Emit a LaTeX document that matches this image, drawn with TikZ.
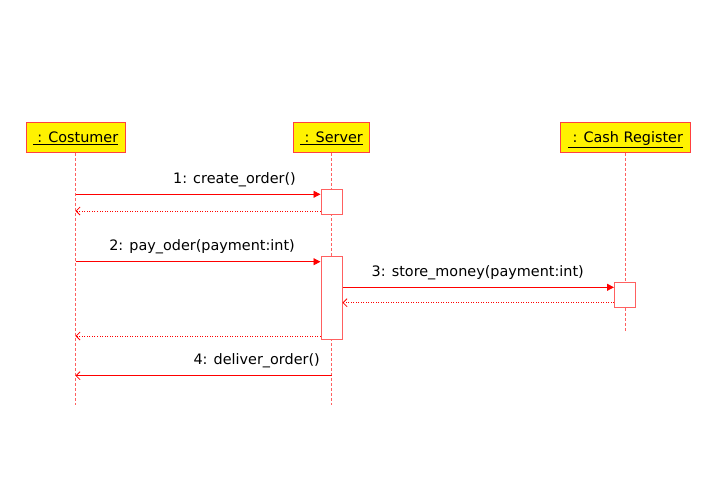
\documentclass[tikz,border=0pt]{standalone}
\usepackage{fontspec}
\setmainfont{DejaVu Sans}
\usetikzlibrary{arrows.meta}
\definecolor{lred}{HTML}{FF6060}
\definecolor{objborder}{HTML}{FF4040}
\newcommand\myul[1]{\vtop{\hbox{#1}\kern1.6pt\hrule height 1.2pt}}
\begin{document}
\begin{tikzpicture}[x=1pt,y=-1pt,
 obj/.style={draw=objborder, fill=yellow, line width=1pt, minimum height=30pt, inner sep=0pt, text height=11pt, text depth=1pt, font=\fontsize{14.4}{16}\selectfont},
 life/.style={draw=lred, dash pattern=on 3pt off 2pt, line width=1pt},
 act/.style={draw=lred, fill=white, line width=1pt, minimum width=21pt, inner sep=0pt},
 msg/.style={draw=red, line width=0.8pt, -{Triangle[length=7pt,width=7pt]}},
 ret/.style={draw=red, line width=0.8pt, dash pattern=on 1pt off 1.5pt, -{Straight Barb[length=4pt,width=8pt]}},
 rsolid/.style={draw=red, line width=0.8pt, -{Straight Barb[length=4pt,width=8pt]}},
 lbl/.style={font=\fontsize{14.4}{16}\selectfont, anchor=base east, inner sep=0pt}]
\useasboundingbox (0,0) rectangle (705,501);
% objects
\node[obj, minimum width=99pt] (cost) at (75.5,137.3) {\myul{\ : Costumer}};
\node[obj, minimum width=76pt] (serv) at (331.5,137.3) {\myul{\ : Server}};
\node[obj, minimum width=130pt] (cash) at (625.5,137.3) {\myul{\ : Cash Register}};
% lifeline ends
\coordinate (costEnd) at (75.5,405);
\coordinate (servEnd) at (331.5,405);
\coordinate (cashEnd) at (625.5,331);
\draw[life] (cost.south) -- (costEnd);
\draw[life] (serv.south) -- (servEnd);
\draw[life] (cash.south) -- (cashEnd);
% activations
\node[act, minimum height=25pt] (act1) at (331.5,201.8) {};
\node[act, minimum height=83pt] (act2) at (331.5,297.6) {};
\node[act, minimum height=25pt] (act3) at (625,294.8) {};
% message 1
\draw[msg] (cost.south |- 0,194.3) -- (act1.west |- 0,194.3);
\node[lbl] (l1) at (296,183) {1: create\_order()};
\draw[ret] (act1.west |- 0,211) -- (cost.south |- 0,211);
% message 2
\draw[msg] (cost.south |- 0,261.7) -- (act2.west |- 0,261.7);
\node[lbl] (l2) at (295,250.2) {2: pay\_oder(payment:int)};
% message 3
\draw[msg] (act2.east |- 0,287.3) -- (act3.west |- 0,287.3);
\node[lbl] (l3) at (584,276) {3: store\_money(payment:int)};
\draw[ret] (act3.west |- 0,302.7) -- (act2.east |- 0,302.7);
% return 2
\draw[ret] (act2.west |- 0,336) -- (cost.south |- 0,336);
% message 4
\draw[rsolid] (serv.south |- 0,375.7) -- (cost.south |- 0,375.7);
\node[lbl] (l4) at (320,364.2) {4: deliver\_order()};
\end{tikzpicture}
\end{document}
